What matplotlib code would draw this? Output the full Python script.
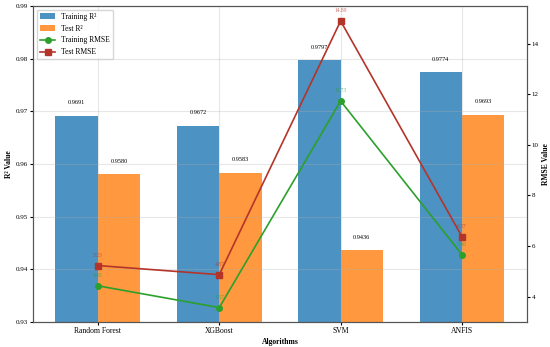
import numpy as np
import matplotlib.pyplot as plt

plt.rcParams['font.family'] = ['Liberation Serif', 'DejaVu Serif']

algorithms = ['Random Forest', 'XGBoost', 'SVM', 'ANFIS']
train_r2 = [0.9691, 0.9672, 0.9797, 0.9774]
test_r2 = [0.9580, 0.9583, 0.9436, 0.9693]
train_rmse = [4.43, 3.57, 11.73, 5.66]
test_rmse = [5.23, 4.87, 14.89, 6.37]

x = np.arange(len(algorithms))
width = 0.35

fig, ax1 = plt.subplots(figsize=(5.5, 3.47), dpi=100)

b1 = ax1.bar(x - width/2, train_r2, width, label='Training R²', color='#1f77b4', alpha=0.8)
b2 = ax1.bar(x + width/2, test_r2, width, label='Test R²', color='#ff7f0e', alpha=0.8)
ax1.set_ylim(0.93, 0.99)
ax1.set_xlabel('Algorithms', fontsize=5.5, fontweight='bold', labelpad=2)
ax1.set_ylabel('R² Value', fontsize=5.5, fontweight='bold', labelpad=2)
ax1.set_xticks(x)
ax1.set_xticklabels(algorithms, fontsize=5.5)
ax1.tick_params(axis='both', labelsize=5, length=2, pad=1.5)
ax1.tick_params(axis='x', labelsize=5.5)
ax1.grid(True, alpha=0.3)
for s in ax1.spines.values():
    s.set_color('#555555')

for bars in (b1, b2):
    for b in bars:
        h = b.get_height()
        ax1.text(b.get_x() + b.get_width()/2, h + 0.002, f'{h:.4f}',
                 ha='center', va='bottom', fontsize=4.5)

ax2 = ax1.twinx()
ax2.plot(x, train_rmse, 'o-', color='#2ca02c', linewidth=1.2, markersize=4, label='Training RMSE')
ax2.plot(x, test_rmse, 's-', color='#b5342a', linewidth=1.2, markersize=4, label='Test RMSE')
ax2.set_ylim(3, max(test_rmse) * 1.04)
ax2.set_ylabel('RMSE Value', fontsize=5.5, fontweight='bold', labelpad=2)
ax2.tick_params(axis='y', labelsize=5, length=2, pad=1.5)
for s in ax2.spines.values():
    s.set_color('#555555')

for i in range(len(x)):
    ax2.text(x[i], train_rmse[i] + 0.3, f'{train_rmse[i]:.2f}', ha='center', va='bottom',
             fontsize=4, color='#2ca02c', alpha=0.7)
    ax2.text(x[i], test_rmse[i] + 0.3, f'{test_rmse[i]:.2f}', ha='center', va='bottom',
             fontsize=4, color='#b5342a', alpha=0.7)

h1, lab1 = ax1.get_legend_handles_labels()
h2, lab2 = ax2.get_legend_handles_labels()
ax1.legend(h1 + h2, lab1 + lab2, loc='upper left', fontsize=5.5)

fig.subplots_adjust(left=0.06, right=0.958, top=0.983, bottom=0.072)
plt.savefig('out.png', dpi=100)
